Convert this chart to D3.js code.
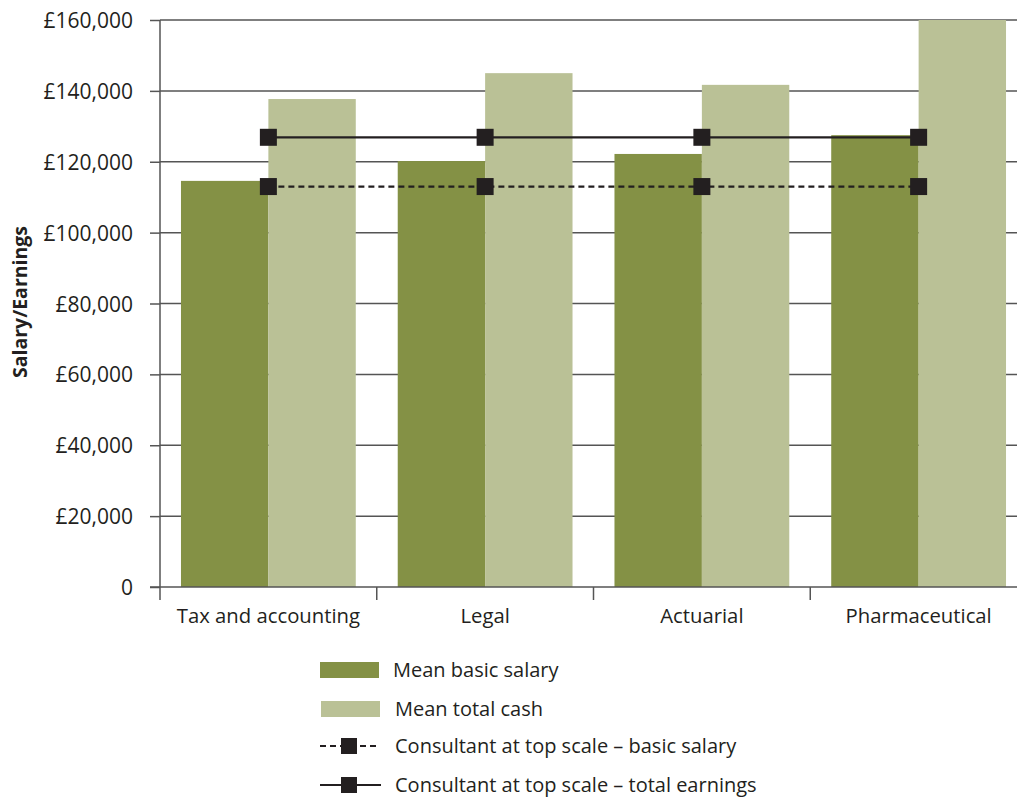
<!DOCTYPE html>
<html><head><meta charset="utf-8">
<script src="https://cdn.jsdelivr.net/npm/d3@7"></script>
<style>body{margin:0;background:#fff}svg{display:block}text{font-family:"Open Sans","Noto Sans",sans-serif;fill:#231f20}</style>
</head><body><svg id="c" width="1017" height="800"></svg>
<script>
const categories = ["Tax and accounting","Legal","Actuarial","Pharmaceutical"];
const meanBasicSalary = [114600,120200,122200,127500];
const meanTotalCash = [137700,145000,141700,160000];
const consultantBasic = [113000,113000,113000,113000];
const consultantTotal = [126900,126900,126900,126900];
const yTicks = [0,20000,40000,60000,80000,100000,120000,140000,160000];
const legendLabels = ["Mean basic salary","Mean total cash","Consultant at top scale \u2013 basic salary","Consultant at top scale \u2013 total earnings"];

const darkGreen = "#849145", lightGreen = "#bac196", ink = "#231f20", grid = "#555";
const svg = d3.select("#c");
const x = d3.scaleBand().domain(categories).range([160, 1027]).paddingInner(0).paddingOuter(0);
const y = d3.scaleLinear().domain([0,160000]).range([587, 20]);
const inner = d3.scaleBand().domain(["basic","total"]).range([0, x.bandwidth()]).paddingOuter(0.24).paddingInner(0);

// gridlines
svg.append("g").selectAll("line").data(yTicks.filter(d=>d>0)).join("line")
  .attr("x1",160).attr("x2",1027).attr("y1",d=>y(d)).attr("y2",d=>y(d))
  .attr("stroke",grid).attr("stroke-width",1.5);

// bars
const g = svg.append("g").selectAll("g").data(categories).join("g")
  .attr("transform",c=>`translate(${x(c)},0)`);
g.append("rect").attr("x",inner("basic")).attr("width",inner.bandwidth())
  .attr("y",(c,i)=>y(meanBasicSalary[i])).attr("height",(c,i)=>y(0)-y(meanBasicSalary[i])).attr("fill",darkGreen);
g.append("rect").attr("x",inner("total")).attr("width",inner.bandwidth())
  .attr("y",(c,i)=>y(meanTotalCash[i])).attr("height",(c,i)=>y(0)-y(meanTotalCash[i])).attr("fill",lightGreen);

// y axis
const yAxis = d3.axisLeft(y).tickValues(yTicks).tickSize(10).tickPadding(17)
  .tickFormat(d=> d===0 ? "0" : "\u00a3"+d3.format(",")(d));
const ya = svg.append("g").attr("transform","translate(160,0)").call(yAxis);
ya.select(".domain").attr("stroke",grid).attr("stroke-width",1.5).attr("d","M0,20V587");
ya.selectAll(".tick line").attr("stroke",grid).attr("stroke-width",1.5);
ya.selectAll("text").attr("font-size",21).attr("fill",ink).attr("dy","0.36em")
  .style("font-family",'"Open Sans","Noto Sans",sans-serif');

// x axis
const xa = svg.append("g").attr("transform","translate(0,587)");
xa.append("line").attr("x1",150).attr("x2",1027).attr("y1",0).attr("y2",0).attr("stroke",grid).attr("stroke-width",1.5);
xa.selectAll("line.t").data(categories).join("line").attr("class","t")
  .attr("x1",c=>x(c)).attr("x2",c=>x(c)).attr("y1",0).attr("y2",13).attr("stroke",grid).attr("stroke-width",1.5);
xa.selectAll("text").data(categories).join("text")
  .attr("x",c=>x(c)+x.bandwidth()/2).attr("y",36).attr("text-anchor","middle").attr("font-size",20.3).text(c=>c);

// lines
const line = d3.line().x((d,i)=>x(categories[i])+x.bandwidth()/2).y(d=>y(d));
svg.append("path").attr("d",line(consultantTotal)).attr("fill","none").attr("stroke",ink).attr("stroke-width",2.2);
svg.append("path").attr("d",line(consultantBasic)).attr("fill","none").attr("stroke",ink).attr("stroke-width",2.2).attr("stroke-dasharray","6,4");
const ms = 17;
[consultantTotal, consultantBasic].forEach(arr=>{
  svg.append("g").selectAll("rect").data(arr).join("rect")
    .attr("x",(d,i)=>x(categories[i])+x.bandwidth()/2-ms/2).attr("y",d=>y(d)-ms/2)
    .attr("width",ms).attr("height",ms).attr("fill",ink);
});

// y title
svg.append("text").attr("transform","translate(27,302) rotate(-90)").attr("text-anchor","middle")
  .attr("font-size",19.5).attr("font-weight","bold").text("Salary/Earnings");

// legend
const lg = svg.append("g");
const ly = [670, 709, 746, 785];
lg.append("rect").attr("x",320).attr("y",ly[0]-8).attr("width",59).attr("height",16).attr("fill",darkGreen);
lg.append("rect").attr("x",321).attr("y",ly[1]-8).attr("width",59).attr("height",16).attr("fill",lightGreen);
lg.append("line").attr("x1",320).attr("x2",380).attr("y1",ly[2]).attr("y2",ly[2]).attr("stroke",ink).attr("stroke-width",2.2).attr("stroke-dasharray","6,4");
lg.append("line").attr("x1",320).attr("x2",381).attr("y1",ly[3]).attr("y2",ly[3]).attr("stroke",ink).attr("stroke-width",2.2);
[2,3].forEach(k=>lg.append("rect").attr("x",341).attr("y",ly[k]-8).attr("width",16).attr("height",16).attr("fill",ink));
lg.selectAll("text").data(legendLabels).join("text")
  .attr("x",(d,i)=>i===0?393:395).attr("y",(d,i)=>ly[i]).attr("dy","0.35em").attr("font-size",20).text(d=>d);
</script></body></html>
